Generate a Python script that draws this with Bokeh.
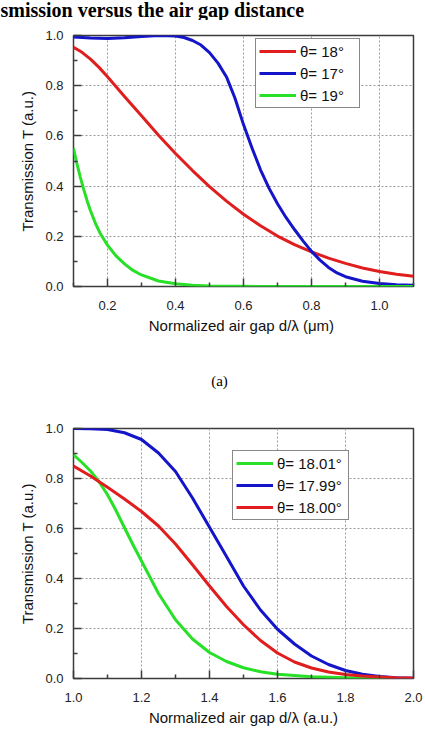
from bokeh.plotting import figure
from bokeh.layouts import column
from bokeh.models import Range1d, FixedTicker, Legend, LegendItem, Label, PrintfTickFormatter
from bokeh.embed import file_html
from bokeh.resources import INLINE

# ---- panel (a): incidence angles 18, 17, 19 degrees ----
a_x_red = [0.10, 0.125, 0.15, 0.175, 0.20, 0.25, 0.30, 0.35, 0.40, 0.45, 0.50, 0.55, 0.60,
           0.65, 0.70, 0.75, 0.80, 0.85, 0.90, 0.95, 1.00, 1.05, 1.10]
a_t_red = [0.953, 0.933, 0.906, 0.873, 0.836, 0.757, 0.680, 0.603, 0.530, 0.462, 0.398, 0.340, 0.288,
           0.242, 0.201, 0.167, 0.138, 0.113, 0.092, 0.074, 0.060, 0.049, 0.041]

a_x_blue = [0.10, 0.15, 0.20, 0.25, 0.30, 0.35, 0.40, 0.425, 0.45, 0.475, 0.50, 0.525, 0.55,
            0.575, 0.60, 0.625, 0.65, 0.675, 0.70, 0.725, 0.75, 0.775, 0.80, 0.825,
            0.85, 0.875, 0.90, 0.95, 1.00, 1.05, 1.10]
a_t_blue = [0.994, 0.990, 0.988, 0.991, 0.996, 1.000, 0.998, 0.992, 0.980, 0.962, 0.932, 0.890, 0.835,
            0.750, 0.645, 0.552, 0.465, 0.392, 0.330, 0.275, 0.227, 0.182, 0.140, 0.105,
            0.076, 0.054, 0.039, 0.021, 0.012, 0.007, 0.005]

a_x_green = [0.10, 0.11, 0.12, 0.13, 0.14, 0.15, 0.165, 0.18, 0.20, 0.225, 0.25, 0.275,
             0.30, 0.35, 0.40, 0.45, 0.50, 0.60, 0.80, 1.10]
a_t_green = [0.550, 0.490, 0.436, 0.387, 0.342, 0.302, 0.250, 0.208, 0.165, 0.122, 0.090, 0.064,
             0.046, 0.022, 0.011, 0.005, 0.002, 0.0005, 0.0, 0.0]

a_labels = ["θ= 18°", "θ= 17°", "θ= 19°"]
a_xticks = [0.2, 0.4, 0.6, 0.8, 1.0]

# ---- panel (b): incidence angles 18.01, 17.99, 18.00 degrees ----
b_x_green = [1.00, 1.025, 1.05, 1.075, 1.10, 1.125, 1.15, 1.175, 1.20, 1.25, 1.30, 1.35, 1.40,
             1.45, 1.50, 1.55, 1.60, 1.70, 1.80, 1.90, 2.00]
b_t_green = [0.895, 0.864, 0.830, 0.787, 0.735, 0.672, 0.603, 0.535, 0.470, 0.340, 0.235, 0.158, 0.104,
             0.068, 0.043, 0.027, 0.017, 0.007, 0.003, 0.001, 0.0]

b_x = [1.00, 1.05, 1.10, 1.15, 1.20, 1.25, 1.30, 1.35, 1.40, 1.45, 1.50,
       1.55, 1.60, 1.65, 1.70, 1.75, 1.80, 1.85, 1.90, 1.95, 2.00]
b_t_blue = [1.000, 0.999, 0.996, 0.983, 0.956, 0.902, 0.828, 0.722, 0.605, 0.488, 0.370,
            0.274, 0.197, 0.138, 0.090, 0.056, 0.032, 0.017, 0.008, 0.003, 0.001]
b_t_red = [0.850, 0.810, 0.765, 0.718, 0.668, 0.610, 0.538, 0.455, 0.370, 0.288, 0.215,
           0.152, 0.102, 0.066, 0.042, 0.026, 0.016, 0.010, 0.006, 0.003, 0.002]

b_labels = ["θ= 18.01°", "θ= 17.99°", "θ= 18.00°"]
b_xticks = [1.0, 1.2, 1.4, 1.6, 1.8, 2.0]

y_ticks = [0.0, 0.2, 0.4, 0.6, 0.8, 1.0]
y_minor = [0.1, 0.3, 0.5, 0.7, 0.9]

heading = "smission versus the air gap distance"
caption_a = "(a)"

RED = "#e01e1e"
BLUE = "#1414c8"
GREEN = "#28e028"
FRAME = "#3c3c3c"
SANS = "Liberation Sans"
SERIF = "Liberation Serif"
W = 425


def text_strip(height, text, x, y, size, style, align):
    """A bare strip (pixel-sized ranges, no axes) carrying one line of text."""
    s = figure(width=W, height=height, output_backend="svg", toolbar_location=None,
               x_range=Range1d(0, W), y_range=Range1d(0, height),
               x_axis_type=None, y_axis_type=None,
               min_border=0, min_border_left=0, min_border_right=0,
               min_border_top=0, min_border_bottom=0)
    # keep this strip's frame independent of the panels' frames
    s.frame_align = False
    s.outline_line_color = None
    s.grid.visible = False
    s.background_fill_color = "white"
    s.border_fill_color = "white"
    s.add_layout(Label(x=x, y=y, text=text, text_font=SERIF, text_font_style=style,
                       text_font_size=size, text_color="#000000",
                       text_align=align, text_baseline="alphabetic"))
    return s


def make_panel(height, border_top, border_bottom, x0, x1, xticks, xminor, gridx, xlabel):
    p = figure(width=W, height=height, output_backend="svg", toolbar_location=None,
               x_range=Range1d(x0, x1), y_range=Range1d(0, 1),
               min_border_left=73, min_border_right=12,
               min_border_top=border_top, min_border_bottom=border_bottom)
    p.background_fill_color = "white"
    p.border_fill_color = "white"
    p.outline_line_color = FRAME
    p.outline_line_width = 1.5
    p.outline_line_alpha = 1.0

    p.xaxis.ticker = FixedTicker(ticks=xticks, minor_ticks=xminor)
    p.yaxis.ticker = FixedTicker(ticks=y_ticks, minor_ticks=y_minor)
    p.xaxis.formatter = PrintfTickFormatter(format="%.1f")
    p.yaxis.formatter = PrintfTickFormatter(format="%.1f")
    for ax in (p.xaxis, p.yaxis):
        ax.axis_line_color = None
        ax.major_tick_in = 8
        ax.major_tick_out = 0
        ax.minor_tick_in = 4
        ax.minor_tick_out = 0
        ax.major_tick_line_color = FRAME
        ax.minor_tick_line_color = FRAME
        ax.major_tick_line_width = 1.5
        ax.minor_tick_line_width = 1.5
        ax.major_label_text_font = SANS
        ax.major_label_text_font_size = "13px"
        ax.major_label_text_color = "#222222"
        ax.axis_label_text_font = SANS
        ax.axis_label_text_font_size = "15px"
        ax.axis_label_text_font_style = "normal"
        ax.axis_label_text_color = "#111111"
    p.xaxis.major_label_standoff = 14
    p.yaxis.major_label_standoff = 10
    p.xaxis.axis_label_standoff = 4
    p.yaxis.axis_label_standoff = 6
    p.xaxis.axis_label = xlabel
    p.yaxis.axis_label = "Transmission T (a.u.)"

    p.xgrid.ticker = FixedTicker(ticks=gridx)
    p.ygrid.ticker = FixedTicker(ticks=[0.2, 0.4, 0.6, 0.8])
    for g in (p.xgrid, p.ygrid):
        g.grid_line_color = "#9a9a9a"
        g.grid_line_dash = "2 2"
        g.grid_line_width = 1
    return p


def add_legend(p, renderers, labels, loc, label_width):
    leg = Legend(items=[LegendItem(label=l, renderers=[r]) for l, r in zip(labels, renderers)],
                 location=loc, orientation="vertical")
    leg.border_line_color = "#111111"
    leg.border_line_width = 1.5
    leg.background_fill_color = "white"
    leg.background_fill_alpha = 1.0
    leg.padding = 3
    leg.spacing = 4
    leg.margin = 0
    leg.glyph_width = 37
    leg.glyph_height = 18
    leg.label_height = 18
    leg.label_width = label_width
    leg.label_standoff = 4
    leg.label_text_font = SANS
    leg.label_text_font_size = "15px"
    leg.label_text_color = "#111111"
    p.add_layout(leg)


# ---------------- heading strip ----------------
top = text_strip(20, heading, 0, 10.5, "20px", "bold", "left")

# ---------------- panel (a) ----------------
pa = make_panel(325, 15, 59, 0.1, 1.1, a_xticks,
                [0.1, 0.3, 0.5, 0.7, 0.9, 1.1], a_xticks,
                "Normalized air gap  d/λ (μm)")
ra = pa.line(a_x_red, a_t_red, line_color=RED, line_width=3, line_join="round")
ba = pa.line(a_x_blue, a_t_blue, line_color=BLUE, line_width=3, line_join="round")
ga = pa.line(a_x_green, a_t_green, line_color=GREEN, line_width=3, line_join="round")
add_legend(pa, [ra, ba, ga], a_labels, (182, 178), 56)

# ---------------- caption strip ----------------
cap = text_strip(55, caption_a, 219, 20, "15px", "normal", "center")

# ---------------- panel (b) ----------------
pb = make_panel(348, 28, 70, 1.0, 2.0, b_xticks,
                [1.1, 1.3, 1.5, 1.7, 1.9], [1.2, 1.4, 1.6, 1.8],
                "Normalized air gap d/λ (a.u.)")
gb = pb.line(b_x_green, b_t_green, line_color=GREEN, line_width=3, line_join="round")
bb = pb.line(b_x, b_t_blue, line_color=BLUE, line_width=3, line_join="round")
rb = pb.line(b_x, b_t_red, line_color=RED, line_width=3, line_join="round")
add_legend(pb, [gb, bb, rb], b_labels, (159, 158), 68)

layout = column(top, pa, cap, pb, spacing=0)
open("out.html", "w").write(file_html(layout, INLINE))
